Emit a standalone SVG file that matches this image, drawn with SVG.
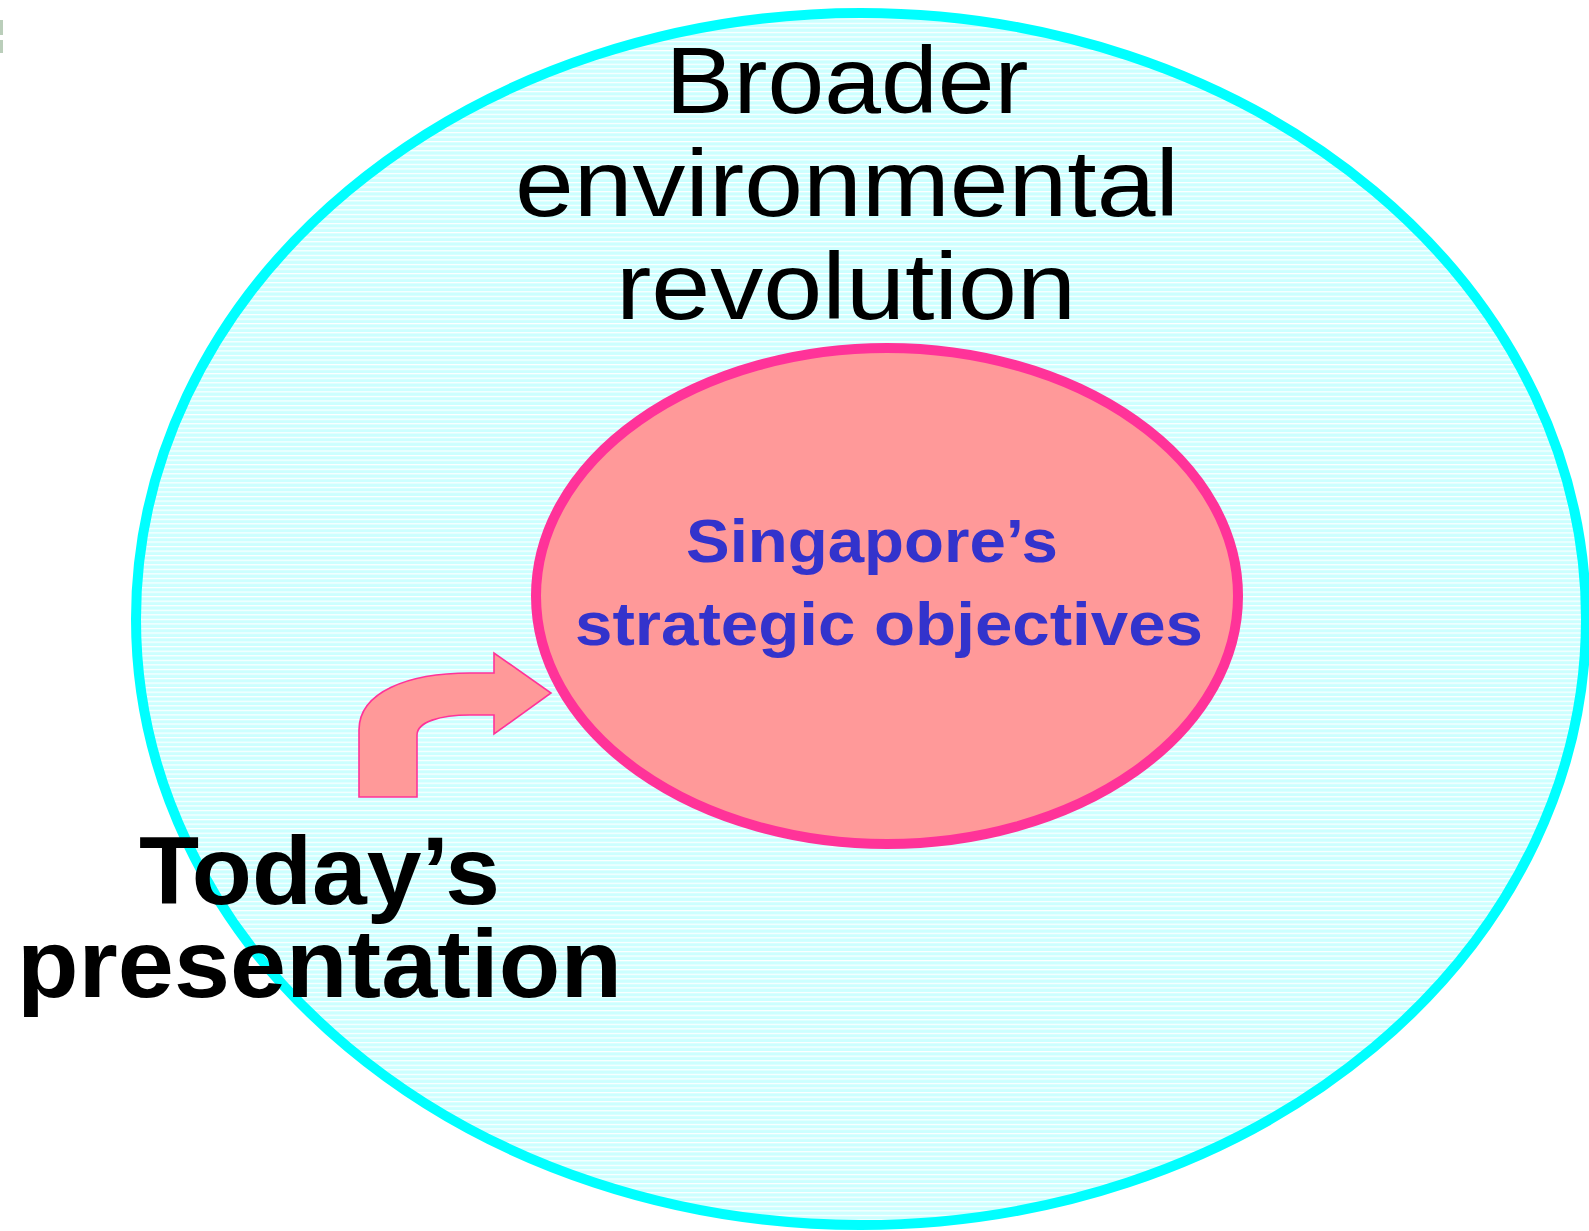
<svg xmlns="http://www.w3.org/2000/svg" width="1589" height="1231" viewBox="0 0 1589 1231">
  <defs>
    <!-- light cyan fill with fine white horizontal rules -->
    <pattern id="hatch" patternUnits="userSpaceOnUse" x="0" y="0" width="20" height="4.55">
      <rect width="20" height="4.55" fill="#ccffff"/>
      <rect y="0" width="20" height="1.2" fill="#ffffff"/>
    </pattern>
    <style>
      .outer { fill: url(#hatch); stroke: #00ffff; stroke-width: 10; }
      .inner { fill: #ff9999; stroke: #ff3399; stroke-width: 10; }
      .arrow { fill: #ff9999; stroke: #ff3399; stroke-width: 1.6; stroke-linejoin: miter; }
      .big { font-family: "Liberation Sans", Arial, sans-serif; font-size: 95px; fill: #000000; }
      .bold { font-family: "Liberation Sans", Arial, sans-serif; font-weight: bold; fill: #000000; font-size: 96px; }
      .blue { font-family: "Liberation Sans", Arial, sans-serif; font-weight: bold; fill: #3333cc; font-size: 61px; }
    </style>
  </defs>

  <rect width="1589" height="1231" fill="#ffffff"/>

  <!-- clipped fragment at the left edge -->
  <g id="edge-mark" fill="#a9c2a9" opacity="0.8">
    <rect x="0" y="20" width="3" height="15"/>
    <rect x="0" y="40" width="3" height="13"/>
  </g>

  <g id="context">
    <ellipse class="outer" cx="861" cy="619" rx="725" ry="606"/>
    <text class="big" x="847" y="113" text-anchor="middle" textLength="363" lengthAdjust="spacingAndGlyphs">Broader</text>
    <text class="big" x="847" y="216" text-anchor="middle" textLength="664" lengthAdjust="spacingAndGlyphs">environmental</text>
    <text class="big" x="846" y="319" text-anchor="middle" textLength="460" lengthAdjust="spacingAndGlyphs">revolution</text>
  </g>

  <g id="objectives">
    <ellipse class="inner" cx="887" cy="596" rx="351" ry="248"/>
    <text class="blue" x="686" y="562" textLength="372" lengthAdjust="spacingAndGlyphs">Singapore’s</text>
    <text class="blue" x="575" y="645" textLength="628" lengthAdjust="spacingAndGlyphs">strategic objectives</text>
  </g>

  <g id="connectors">
    <path class="arrow" d="M 359 797 L 359 730 C 359 692 408 673 470 673 L 494 673 L 494 653 L 551 693 L 494 734 L 494 715 L 470 715 C 440 715 417 722 417 735 L 417 797 Z"/>
  </g>

  <g id="presentation">
    <text class="bold" x="139" y="904" textLength="361" lengthAdjust="spacingAndGlyphs">Today’s</text>
    <text class="bold" x="17" y="997" textLength="605" lengthAdjust="spacingAndGlyphs">presentation</text>
  </g>
</svg>
